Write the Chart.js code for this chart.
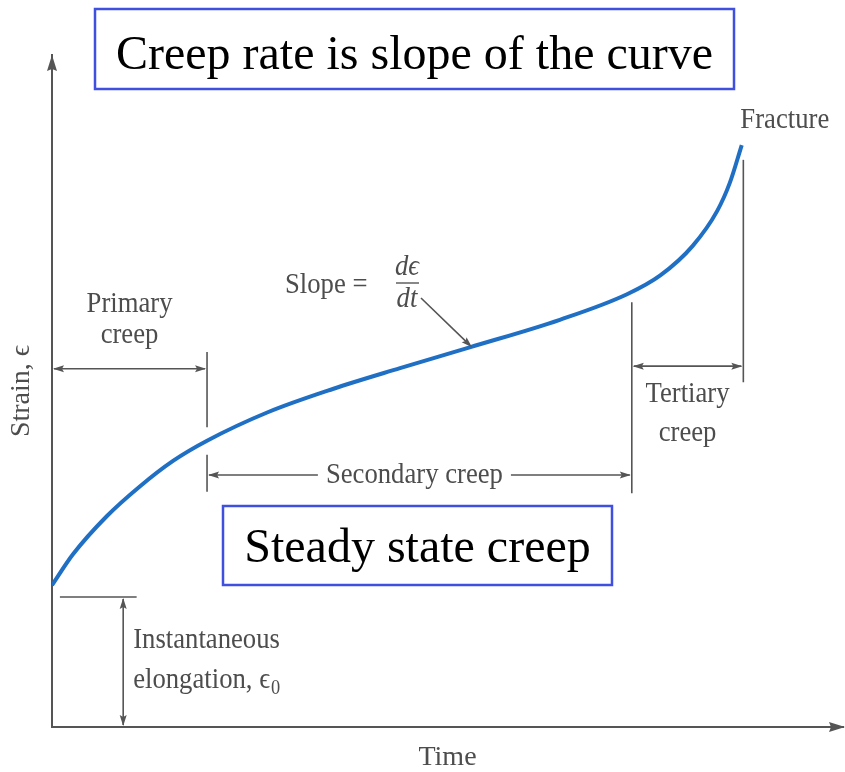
<!DOCTYPE html>
<html>
<head>
<meta charset="utf-8">
<script src="https://cdn.jsdelivr.net/npm/chart.js@4"></script>
<style>
  body { margin: 0; background: #fff; }
  #creepChart { display: block; }
</style>
</head>
<body>
<canvas id="creepChart" width="845" height="772"></canvas>
<script>
// creep curve (time and strain in arbitrary units 0-100)
const timeValues = [0, 2.65, 6.95, 11.1, 15.3, 19.6, 27.2, 35.5, 44.0, 52.8, 64.2, 72.7, 76.9, 81.0, 84.1, 85.7, 87.2];
const strainValues = [21.1, 25.7, 31.4, 35.8, 39.6, 42.6, 46.8, 50.3, 53.4, 56.5, 60.6, 64.4, 67.2, 71.6, 76.8, 81.0, 86.6];

// stage boundaries on the time axis: end of primary, end of secondary, fracture
const stageBounds = [19.6, 73.3, 87.4];
const stageLabels = ["Primary creep", "Secondary creep", "Tertiary creep"];

const SERIF = "'Liberation Serif', 'DejaVu Serif', serif";
const INK = "#4d4d4d";
const LINE = "#555";
const BOX = "#3f4fe0";

function label(ctx, text, x, y, opts) {
  opts = opts || {};
  ctx.save();
  ctx.font = (opts.italic ? "italic " : "") + (opts.size || 29) + "px " + SERIF;
  ctx.fillStyle = opts.color || INK;
  ctx.textBaseline = "alphabetic";
  const sx = opts.scaleX || 0.92;
  const w = ctx.measureText(text).width * sx;
  let left = x;
  if (opts.align === "center") left = x - w / 2;
  if (opts.align === "right") left = x - w;
  ctx.translate(left, y);
  ctx.scale(sx, 1);
  ctx.fillText(text, 0, 0);
  ctx.restore();
  return w;
}

function textWidth(ctx, text, size, sx) {
  ctx.save();
  ctx.font = size + "px " + SERIF;
  const w = ctx.measureText(text).width * sx;
  ctx.restore();
  return w;
}

function head(ctx, x, y, angle, len, half) {
  len = len || 11;
  half = half || 3.5;
  ctx.save();
  ctx.translate(x, y);
  ctx.rotate(angle);
  ctx.beginPath();
  ctx.moveTo(0, 0);
  ctx.lineTo(-len, -half);
  ctx.lineTo(-len + 2, 0);
  ctx.lineTo(-len, half);
  ctx.closePath();
  ctx.fillStyle = LINE;
  ctx.fill();
  ctx.restore();
}

function seg(ctx, x1, y1, x2, y2, w) {
  ctx.save();
  ctx.strokeStyle = LINE;
  ctx.lineWidth = w || 1.6;
  ctx.beginPath();
  ctx.moveTo(x1, y1);
  ctx.lineTo(x2, y2);
  ctx.stroke();
  ctx.restore();
}

function dimArrow(ctx, x1, x2, y) {
  seg(ctx, x1 + 2, y, x2 - 2, y);
  head(ctx, x1 + 1, y, Math.PI);
  head(ctx, x2 - 1, y, 0);
}

function textBox(ctx, text, left, top, right, bottom, baseline) {
  ctx.save();
  ctx.strokeStyle = BOX;
  ctx.lineWidth = 2.5;
  ctx.fillStyle = "#fff";
  ctx.fillRect(left, top, right - left, bottom - top);
  ctx.strokeRect(left, top, right - left, bottom - top);
  ctx.font = "48px " + SERIF;
  ctx.fillStyle = "#000";
  ctx.textAlign = "center";
  ctx.textBaseline = "alphabetic";
  ctx.fillText(text, (left + right) / 2, baseline);
  ctx.restore();
}

const creepNotes = {
  id: "creepNotes",
  afterDraw(chart) {
    const { ctx, chartArea, scales: { x, y } } = chart;
    const px = v => x.getPixelForValue(v);
    const py = v => y.getPixelForValue(v);

    // axis arrow heads
    head(ctx, chartArea.left, chartArea.top, -Math.PI / 2, 16, 5);
    head(ctx, chartArea.right + 2, chartArea.bottom, 0, 16, 5);

    const xa = px(stageBounds[0]);
    const xb = px(stageBounds[1]);
    const xc = px(stageBounds[2]);

    // primary creep
    seg(ctx, xa, py(55.8), xa, py(44.6));
    seg(ctx, xa, py(40.5), xa, py(35.0));
    dimArrow(ctx, chartArea.left, xa, py(53.3));
    label(ctx, "Primary", (chartArea.left + xa) / 2, py(61.8), { align: "center" });
    label(ctx, "creep", (chartArea.left + xa) / 2, py(57.2), { align: "center" });

    // secondary creep
    seg(ctx, xb, py(63.2), xb, py(34.8));
    const ySec = py(37.5);
    const midSec = (xa + xb) / 2 - 5;
    const secW = textWidth(ctx, stageLabels[1], 29, 0.92);
    seg(ctx, xa + 2, ySec, midSec - secW / 2 - 8, ySec);
    seg(ctx, midSec + secW / 2 + 8, ySec, xb - 2, ySec);
    head(ctx, xa + 1, ySec, Math.PI);
    head(ctx, xb - 1, ySec, 0);
    label(ctx, stageLabels[1], midSec, ySec + 8, { align: "center" });

    // tertiary creep
    seg(ctx, xc, py(84.4), xc, py(51.3));
    dimArrow(ctx, xb, xc, py(53.7));
    label(ctx, "Tertiary", (xb + xc) / 2, py(48.4), { align: "center" });
    label(ctx, "creep", (xb + xc) / 2, py(42.6), { align: "center" });

    // fracture
    label(ctx, "Fracture", xc - 3, 128);

    // slope annotation
    label(ctx, "Slope =", 285, 293);
    label(ctx, "d\u03F5", 407, 275, { align: "center", italic: true });
    seg(ctx, 396, 283, 419, 283, 1.4);
    label(ctx, "dt", 407, 307, { align: "center", italic: true });
    const s1x = 421, s1y = 298;
    const s2x = px(53.1), s2y = py(56.5);
    seg(ctx, s1x, s1y, s2x - 3, s2y - 3);
    head(ctx, s2x, s2y, Math.atan2(s2y - s1y, s2x - s1x));

    // instantaneous elongation
    const e0 = strainValues[0];
    const yE = py(e0 - 1.75);
    seg(ctx, px(1.0), yE, px(10.7), yE);
    const xE = px(9.0);
    seg(ctx, xE, yE + 2, xE, chartArea.bottom - 2);
    head(ctx, xE, yE + 1, -Math.PI / 2);
    head(ctx, xE, chartArea.bottom - 1, Math.PI / 2);
    label(ctx, "Instantaneous", xE + 10, 648);
    const w = label(ctx, "elongation, \u03F5", xE + 10, 688);
    label(ctx, "0", xE + 10 + w + 1, 694, { size: 20 });

    // highlighted notes
    textBox(ctx, "Creep rate is slope of the curve", 95, 9, 734, 89, 69);
    textBox(ctx, "Steady state creep", 223, 506, 612, 585, 562);
  }
};

function initChart() {
  const ctx = document.getElementById("creepChart").getContext("2d");
  const points = timeValues.map((t, i) => ({ x: t, y: strainValues[i] }));

  new Chart(ctx, {
    type: "line",
    data: {
      datasets: [{
        label: "Strain",
        data: points,
        borderColor: "#1f6fc4",
        borderWidth: 4,
        pointRadius: 0,
        fill: false,
        cubicInterpolationMode: "monotone"
      }]
    },
    options: {
      responsive: false,
      animation: false,
      layout: {
        padding: { left: 4, top: 55, right: 2, bottom: 0 }
      },
      plugins: {
        legend: { display: false },
        tooltip: { enabled: false }
      },
      scales: {
        x: {
          type: "linear",
          min: 0,
          max: 100,
          grid: { display: false, drawTicks: false },
          ticks: { display: false },
          border: { color: LINE, width: 2 },
          title: {
            display: true,
            text: "Time",
            color: INK,
            font: { family: SERIF, size: 28, lineHeight: 1 },
            padding: { top: 17, bottom: 0 }
          }
        },
        y: {
          min: 0,
          max: 100,
          grid: { display: false, drawTicks: false },
          ticks: { display: false },
          border: { color: LINE, width: 2 },
          title: {
            display: true,
            text: "Strain, \u03F5",
            color: INK,
            font: { family: SERIF, size: 28, lineHeight: 1 },
            padding: { top: 4, bottom: 16 }
          }
        }
      }
    },
    plugins: [creepNotes]
  });
}

window.onload = initChart;
</script>
</body>
</html>
